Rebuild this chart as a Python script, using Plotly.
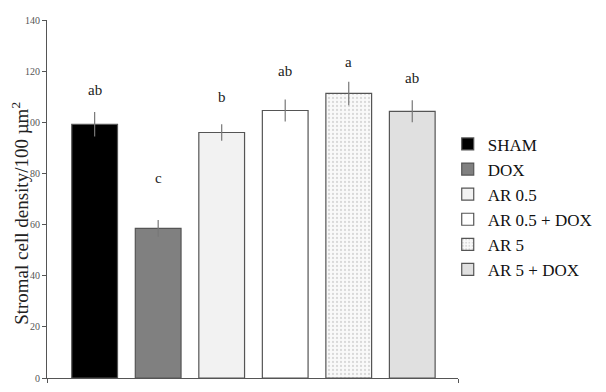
import plotly.graph_objects as go

categories = ["SHAM", "DOX", "AR 0.5", "AR 0.5 + DOX", "AR 5", "AR 5 + DOX"]
means = [99.2, 58.5, 96.0, 104.6, 111.3, 104.3]
errors = [4.8, 3.3, 3.2, 4.3, 4.6, 4.3]
letters = ["ab", "c", "b", "ab", "a", "ab"]
letter_y = [112.6, 78.2, 110.0, 120.0, 123.6, 117.3]
y_ticks = [0, 20, 40, 60, 80, 100, 120, 140]

fills = ["#000000", "#808080", "#f2f2f2", "#ffffff", "#f7f7f7", "#e0e0e0"]
patterns = ["", "", "", "", ".", ""]
serif = "Liberation Serif, Times New Roman, serif"

fig = go.Figure()
for i, cat in enumerate(categories):
    marker = dict(color=fills[i], line=dict(color="#555555", width=1.2))
    if patterns[i]:
        marker["pattern"] = dict(shape=patterns[i], fgcolor="#b8b8b8", bgcolor="#f9f9f9",
                                 size=4, solidity=0.25)
    fig.add_trace(go.Bar(
        x=[i], y=[means[i]], name=cat, width=0.72, marker=marker,
        error_y=dict(type="data", array=[errors[i]], color="#777777", thickness=1.2, width=0),
    ))
    fig.add_annotation(x=i, y=letter_y[i], text=letters[i], showarrow=False,
                       font=dict(family=serif, size=15, color="#222222"),
                       xref="x", yref="y", yanchor="middle")

fig.add_annotation(x=-0.066, y=0.461, xref="paper", yref="paper", xanchor="center", yanchor="middle",
                   text="Stromal cell density/100 µm<sup>2</sup>",
                   textangle=-90, showarrow=False, font=dict(family=serif, size=19, color="#222222"))
fig.add_annotation(x=0.5, y=0, xref="paper", yref="paper", text="Treatments", yanchor="top",
                   yshift=-9, showarrow=False, font=dict(family=serif, size=15, color="#222222"))

# page body has an 8px default margin; size the figure to fill the rest of the window
fig.update_layout(
    width=598, height=384,
    margin=dict(l=39, r=148, t=12, b=14, autoexpand=False),
    paper_bgcolor="white", plot_bgcolor="white",
    barmode="overlay",
    showlegend=True,
    legend=dict(x=0.975, y=0.478, xanchor="left", yanchor="middle",
                font=dict(family=serif, size=17, color="#111111"),
                itemwidth=30, tracegroupgap=0, bgcolor="rgba(0,0,0,0)"),
    xaxis=dict(range=[-0.75, 5.72], showgrid=False, zeroline=False, showticklabels=False,
               showline=True, linecolor="#555555", linewidth=1,
               tickvals=[-0.75, 5.72], ticks="outside", ticklen=4, tickcolor="#555555"),
    yaxis=dict(range=[0, 140], tickvals=y_ticks, showgrid=False, zeroline=False,
               showline=True, linecolor="#555555", linewidth=1,
               ticks="outside", ticklen=4, tickcolor="#555555",
               tickfont=dict(family=serif, size=10, color="#555555")),
)

fig.write_html("out.html")
